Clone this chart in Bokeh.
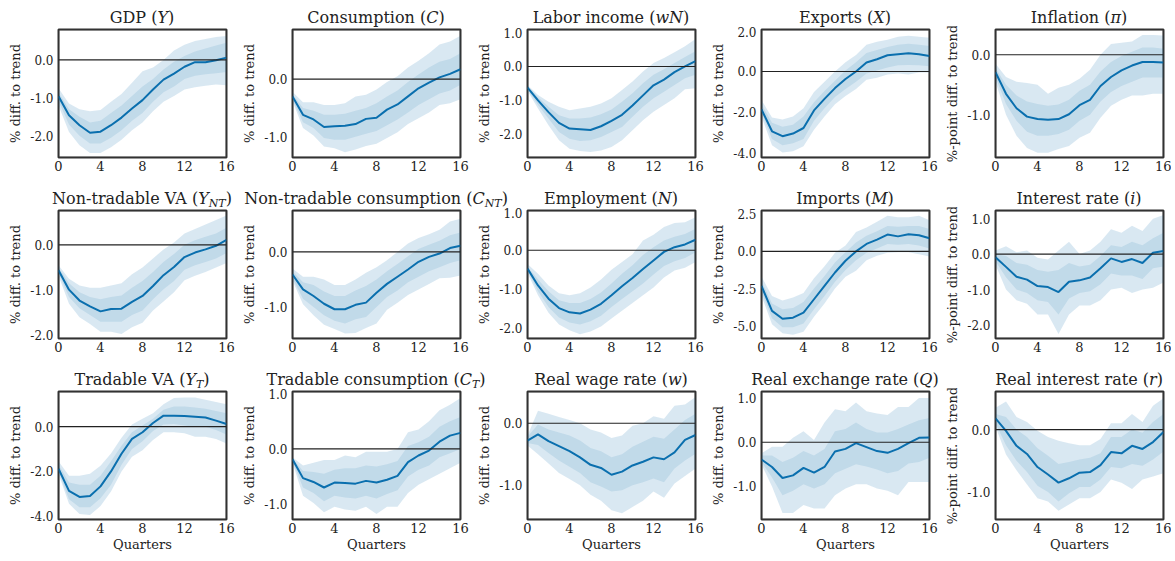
from bokeh.plotting import figure
from bokeh.models import Range1d, FixedTicker, PrintfTickFormatter, Span, Div, BoxAnnotation
from bokeh.layouts import row, column
from bokeh.embed import file_html
from bokeh.resources import INLINE

quarters = list(range(17))
x_ticks = [0, 4, 8, 12, 16]

# ---------------- data (median and 68% / 90% bands) ----------------
gdp_med = [-0.96,-1.46,-1.72,-1.92,-1.89,-1.72,-1.52,-1.28,-1.06,-0.78,-0.52,-0.36,-0.18,-0.06,-0.06,-0.01,0.06]
gdp_hi90 = [-0.75,-1.15,-1.30,-1.35,-1.32,-1.10,-0.90,-0.60,-0.30,-0.20,0.00,0.25,0.40,0.50,0.55,0.60,0.63]
gdp_hi68 = [-0.85,-1.30,-1.50,-1.65,-1.60,-1.40,-1.20,-0.95,-0.70,-0.50,-0.25,-0.05,0.10,0.22,0.30,0.38,0.45]
gdp_lo68 = [-1.08,-1.70,-2.00,-2.20,-2.20,-2.05,-1.85,-1.60,-1.40,-1.10,-0.85,-0.70,-0.50,-0.42,-0.38,-0.35,-0.32]
gdp_lo90 = [-1.20,-1.90,-2.25,-2.45,-2.45,-2.30,-2.10,-1.85,-1.65,-1.35,-1.10,-0.95,-0.78,-0.72,-0.68,-0.65,-0.67]

c_med = [-0.30,-0.62,-0.70,-0.83,-0.82,-0.81,-0.78,-0.69,-0.67,-0.53,-0.44,-0.30,-0.16,-0.06,0.03,0.09,0.17]
c_hi90 = [-0.22,-0.40,-0.40,-0.45,-0.45,-0.42,-0.30,-0.27,-0.18,-0.05,0.05,0.20,0.32,0.45,0.60,0.65,0.75]
c_hi68 = [-0.26,-0.50,-0.55,-0.62,-0.62,-0.60,-0.55,-0.50,-0.42,-0.30,-0.20,-0.05,0.08,0.20,0.30,0.35,0.45]
c_lo68 = [-0.35,-0.75,-0.85,-1.02,-1.05,-1.05,-1.00,-0.95,-0.90,-0.80,-0.70,-0.58,-0.45,-0.35,-0.25,-0.20,-0.10]
c_lo90 = [-0.38,-0.85,-0.98,-1.17,-1.20,-1.27,-1.22,-1.16,-1.12,-1.02,-0.92,-0.78,-0.68,-0.58,-0.45,-0.42,-0.35]

wn_med = [-0.63,-1.01,-1.36,-1.68,-1.85,-1.87,-1.89,-1.78,-1.62,-1.44,-1.16,-0.86,-0.56,-0.39,-0.17,0.00,0.16]
wn_hi90 = [-0.55,-0.85,-1.05,-1.20,-1.30,-1.25,-1.20,-1.10,-0.95,-0.70,-0.45,-0.15,0.10,0.25,0.42,0.60,0.82]
wn_hi68 = [-0.58,-0.92,-1.20,-1.45,-1.55,-1.55,-1.52,-1.42,-1.28,-1.05,-0.80,-0.50,-0.25,-0.08,0.10,0.28,0.45]
wn_lo68 = [-0.68,-1.15,-1.55,-1.95,-2.15,-2.22,-2.20,-2.10,-1.95,-1.80,-1.50,-1.20,-0.95,-0.75,-0.55,-0.35,-0.25]
wn_lo90 = [-0.72,-1.25,-1.75,-2.20,-2.45,-2.52,-2.55,-2.50,-2.40,-2.20,-1.90,-1.60,-1.35,-1.15,-0.95,-0.68,-0.65]

x_med = [-1.85,-2.92,-3.16,-3.03,-2.76,-1.90,-1.34,-0.81,-0.37,0.00,0.44,0.60,0.79,0.84,0.89,0.84,0.76]
x_hi90 = [-1.40,-2.25,-2.35,-2.20,-1.80,-1.00,-0.50,0.00,0.45,0.80,1.30,1.45,1.55,1.70,1.75,1.70,1.65]
x_hi68 = [-1.60,-2.50,-2.70,-2.60,-2.20,-1.50,-0.95,-0.45,0.05,0.45,0.90,1.05,1.20,1.30,1.35,1.30,1.25]
x_lo68 = [-2.00,-3.30,-3.60,-3.50,-3.30,-2.40,-1.80,-1.25,-0.85,-0.50,-0.10,0.05,0.20,0.30,0.32,0.30,0.25]
x_lo90 = [-2.20,-3.60,-3.95,-3.90,-3.65,-2.85,-2.20,-1.60,-1.20,-0.85,-0.40,-0.30,-0.15,-0.10,-0.15,-0.05,-0.05]

pi_med = [-0.29,-0.65,-0.89,-1.03,-1.07,-1.08,-1.07,-0.99,-0.84,-0.75,-0.52,-0.37,-0.26,-0.18,-0.12,-0.12,-0.13]
pi_hi90 = [-0.15,-0.37,-0.45,-0.47,-0.50,-0.65,-0.55,-0.50,-0.40,-0.25,0.00,0.18,0.20,0.22,0.33,0.33,0.32]
pi_hi68 = [-0.22,-0.50,-0.68,-0.78,-0.82,-0.85,-0.83,-0.75,-0.60,-0.50,-0.28,-0.12,-0.02,0.05,0.12,0.12,0.10]
pi_lo68 = [-0.37,-0.82,-1.10,-1.28,-1.35,-1.35,-1.32,-1.25,-1.10,-1.00,-0.78,-0.62,-0.52,-0.45,-0.38,-0.38,-0.38]
pi_lo90 = [-0.45,-1.00,-1.35,-1.55,-1.63,-1.63,-1.57,-1.52,-1.38,-1.30,-1.05,-0.85,-0.75,-0.68,-0.68,-0.65,-0.65]

ynt_med = [-0.56,-0.99,-1.23,-1.36,-1.47,-1.42,-1.41,-1.26,-1.13,-0.91,-0.67,-0.49,-0.27,-0.17,-0.10,-0.02,0.11]
ynt_hi90 = [-0.45,-0.75,-0.90,-0.95,-0.95,-0.90,-0.85,-0.65,-0.50,-0.30,-0.10,0.05,0.25,0.35,0.45,0.55,0.65]
ynt_hi68 = [-0.50,-0.85,-1.05,-1.15,-1.20,-1.15,-1.12,-0.95,-0.80,-0.60,-0.38,-0.20,0.00,0.10,0.18,0.25,0.38]
ynt_lo68 = [-0.62,-1.15,-1.40,-1.55,-1.70,-1.70,-1.70,-1.55,-1.45,-1.20,-0.98,-0.80,-0.55,-0.45,-0.38,-0.30,-0.18]
ynt_lo90 = [-0.68,-1.30,-1.60,-1.75,-1.92,-1.92,-1.97,-1.82,-1.72,-1.45,-1.25,-1.05,-0.78,-0.68,-0.60,-0.50,-0.40]

cnt_med = [-0.41,-0.68,-0.80,-0.94,-1.04,-1.04,-0.96,-0.92,-0.74,-0.58,-0.45,-0.32,-0.18,-0.09,-0.03,0.07,0.11]
cnt_hi90 = [-0.30,-0.45,-0.45,-0.50,-0.60,-0.60,-0.50,-0.38,-0.28,-0.15,0.00,0.15,0.25,0.32,0.40,0.55,0.60]
cnt_hi68 = [-0.35,-0.55,-0.60,-0.72,-0.80,-0.80,-0.70,-0.62,-0.50,-0.35,-0.22,-0.08,0.05,0.13,0.20,0.30,0.35]
cnt_lo68 = [-0.48,-0.85,-1.00,-1.15,-1.25,-1.30,-1.22,-1.18,-1.00,-0.82,-0.70,-0.55,-0.45,-0.35,-0.28,-0.20,-0.15]
cnt_lo90 = [-0.52,-0.95,-1.15,-1.32,-1.40,-1.48,-1.47,-1.38,-1.30,-1.05,-0.92,-0.78,-0.68,-0.58,-0.48,-0.47,-0.43]

n_med = [-0.47,-0.90,-1.24,-1.48,-1.59,-1.62,-1.52,-1.37,-1.15,-0.92,-0.71,-0.48,-0.26,-0.04,0.08,0.15,0.27]
n_hi90 = [-0.35,-0.60,-0.90,-1.10,-1.15,-1.10,-0.95,-0.75,-0.50,-0.30,-0.10,0.25,0.40,0.60,0.70,0.72,0.85]
n_hi68 = [-0.42,-0.75,-1.05,-1.28,-1.35,-1.35,-1.25,-1.08,-0.85,-0.60,-0.38,-0.12,0.08,0.25,0.35,0.42,0.55]
n_lo68 = [-0.52,-1.05,-1.45,-1.72,-1.85,-1.90,-1.82,-1.68,-1.45,-1.25,-1.05,-0.85,-0.62,-0.40,-0.28,-0.20,-0.05]
n_lo90 = [-0.58,-1.15,-1.60,-1.90,-2.05,-2.15,-2.08,-1.95,-1.75,-1.55,-1.35,-1.15,-0.95,-0.70,-0.52,-0.45,-0.30]

m_med = [-2.32,-4.00,-4.53,-4.46,-4.12,-3.22,-2.32,-1.42,-0.63,0.00,0.50,0.79,1.13,1.01,1.15,1.08,0.88]
m_hi90 = [-1.70,-3.00,-3.30,-3.10,-2.80,-1.80,-1.00,-0.10,0.40,1.30,1.60,2.00,2.40,2.30,2.30,2.40,2.10]
m_hi68 = [-2.00,-3.50,-3.90,-3.80,-3.40,-2.50,-1.65,-0.75,-0.05,0.60,1.05,1.35,1.70,1.65,1.70,1.70,1.50]
m_lo68 = [-2.70,-4.50,-5.10,-5.10,-4.85,-3.90,-3.00,-2.05,-1.25,-0.60,-0.10,0.20,0.50,0.45,0.50,0.40,0.20]
m_lo90 = [-3.00,-4.90,-5.50,-5.60,-5.40,-4.40,-3.50,-2.50,-1.70,-1.30,-0.60,-0.30,-0.10,-0.05,-0.05,-0.20,-0.35]

i_med = [-0.09,-0.36,-0.64,-0.72,-0.90,-0.93,-1.07,-0.78,-0.74,-0.66,-0.40,-0.12,-0.22,-0.14,-0.25,0.04,0.09]
i_hi90 = [0.10,0.22,0.05,0.10,-0.10,-0.15,0.10,0.35,0.00,0.10,0.35,0.70,0.60,0.80,0.65,1.00,1.10]
i_hi68 = [0.00,-0.05,-0.25,-0.30,-0.45,-0.50,-0.45,-0.25,-0.35,-0.30,-0.05,0.25,0.20,0.35,0.25,0.45,0.60]
i_lo68 = [-0.20,-0.65,-1.00,-1.10,-1.30,-1.35,-1.70,-1.25,-1.10,-1.05,-0.85,-0.55,-0.60,-0.60,-0.70,-0.40,-0.35]
i_lo90 = [-0.30,-1.00,-1.30,-1.40,-1.70,-1.70,-2.25,-1.70,-1.45,-1.45,-1.30,-1.00,-0.95,-1.10,-1.00,-0.95,-0.80]

yt_med = [-1.88,-2.87,-3.14,-3.10,-2.67,-2.00,-1.21,-0.55,-0.25,0.16,0.49,0.49,0.47,0.44,0.41,0.27,0.12]
yt_hi90 = [-1.55,-2.20,-2.20,-2.10,-1.75,-1.20,-0.50,0.10,0.35,0.60,1.00,1.28,1.30,1.30,1.20,1.10,1.00]
yt_hi68 = [-1.70,-2.50,-2.60,-2.60,-2.20,-1.55,-0.85,-0.25,0.05,0.35,0.75,0.90,0.90,0.85,0.80,0.70,0.60]
yt_lo68 = [-2.00,-3.25,-3.60,-3.60,-3.20,-2.60,-1.70,-1.00,-0.65,-0.20,0.10,0.12,0.05,0.00,0.00,-0.15,-0.35]
yt_lo90 = [-2.10,-3.45,-3.90,-3.95,-3.55,-2.90,-2.00,-1.35,-1.05,-0.60,-0.25,-0.25,-0.30,-0.45,-0.45,-0.55,-0.75]

ct_med = [-0.19,-0.53,-0.60,-0.70,-0.61,-0.62,-0.63,-0.58,-0.61,-0.56,-0.49,-0.24,-0.12,-0.03,0.13,0.24,0.29]
ct_hi90 = [-0.15,-0.30,-0.25,-0.20,-0.20,-0.12,-0.15,-0.05,-0.05,-0.05,0.00,0.30,0.35,0.50,0.70,0.80,0.92]
ct_hi68 = [-0.17,-0.40,-0.42,-0.45,-0.38,-0.35,-0.35,-0.30,-0.32,-0.28,-0.22,0.05,0.12,0.22,0.40,0.50,0.58]
ct_lo68 = [-0.22,-0.70,-0.80,-0.95,-0.85,-0.88,-0.90,-0.85,-0.90,-0.82,-0.75,-0.50,-0.38,-0.30,-0.15,-0.08,0.00]
ct_lo90 = [-0.25,-0.85,-0.98,-1.15,-1.05,-1.10,-1.12,-1.05,-1.18,-1.05,-1.05,-0.80,-0.65,-0.55,-0.45,-0.35,-0.25]

w_med = [-0.28,-0.18,-0.29,-0.37,-0.45,-0.55,-0.67,-0.72,-0.83,-0.78,-0.68,-0.62,-0.55,-0.58,-0.47,-0.27,-0.19]
w_hi90 = [-0.20,0.20,0.15,0.10,0.05,0.00,-0.10,-0.15,-0.24,-0.20,-0.04,0.00,0.11,0.07,0.28,0.30,0.42]
w_hi68 = [-0.22,-0.02,-0.10,-0.15,-0.20,-0.28,-0.40,-0.45,-0.55,-0.50,-0.38,-0.30,-0.22,-0.25,-0.10,0.05,0.15]
w_lo68 = [-0.32,-0.35,-0.48,-0.60,-0.70,-0.80,-0.95,-1.02,-1.10,-1.08,-1.00,-0.95,-0.89,-0.95,-0.73,-0.60,-0.49]
w_lo90 = [-0.36,-0.50,-0.65,-0.80,-0.90,-1.00,-1.15,-1.25,-1.40,-1.45,-1.35,-1.25,-1.10,-1.20,-0.97,-0.85,-0.73]

q_med = [-0.39,-0.56,-0.81,-0.75,-0.58,-0.69,-0.56,-0.21,-0.15,-0.02,-0.11,-0.20,-0.24,-0.15,-0.02,0.10,0.11]
q_hi90 = [-0.25,-0.10,-0.10,0.10,0.25,0.05,0.45,0.75,0.70,0.90,0.70,0.65,0.62,0.80,0.80,1.00,1.00]
q_hi68 = [-0.30,-0.30,-0.45,-0.35,-0.20,-0.30,-0.15,0.25,0.30,0.45,0.30,0.22,0.22,0.30,0.40,0.50,0.55]
q_lo68 = [-0.45,-0.80,-1.20,-1.10,-0.95,-1.05,-0.95,-0.70,-0.60,-0.50,-0.55,-0.62,-0.70,-0.65,-0.48,-0.45,-0.35]
q_lo90 = [-0.50,-1.00,-1.60,-1.60,-1.42,-1.50,-1.50,-1.20,-1.05,-0.95,-0.95,-1.05,-1.10,-1.20,-0.90,-0.90,-0.90]

r_med = [0.18,-0.02,-0.26,-0.39,-0.60,-0.72,-0.85,-0.78,-0.69,-0.68,-0.57,-0.36,-0.38,-0.26,-0.31,-0.20,-0.04]
r_hi90 = [0.35,0.45,0.20,0.12,-0.02,-0.12,-0.18,-0.22,-0.25,-0.25,-0.15,0.10,0.10,0.25,0.12,0.38,0.50]
r_hi68 = [0.25,0.20,0.00,-0.12,-0.30,-0.42,-0.55,-0.52,-0.48,-0.45,-0.38,-0.12,-0.12,0.00,-0.05,0.12,0.25]
r_lo68 = [0.10,-0.25,-0.50,-0.68,-0.90,-1.00,-1.15,-1.02,-0.92,-0.92,-0.80,-0.60,-0.62,-0.55,-0.58,-0.48,-0.35]
r_lo90 = [0.05,-0.40,-0.65,-0.88,-1.10,-1.15,-1.30,-1.20,-1.10,-1.10,-1.00,-0.80,-0.85,-0.95,-0.80,-0.75,-0.70]

titles = [
    'GDP (<i>Y</i>)', 'Consumption (<i>C</i>)', 'Labor income (<i>wN</i>)',
    'Exports (<i>X</i>)', 'Inflation (<i>&pi;</i>)',
    'Non-tradable VA (<i>Y</i><sub>NT</sub>)',
    'Non-tradable consumption (<i>C</i><sub>NT</sub>)',
    'Employment (<i>N</i>)', 'Imports (<i>M</i>)', 'Interest rate (<i>i</i>)',
    'Tradable VA (<i>Y</i><sub>T</sub>)',
    'Tradable consumption (<i>C</i><sub>T</sub>)',
    'Real wage rate (<i>w</i>)', 'Real exchange rate (<i>Q</i>)',
    'Real interest rate (<i>r</i>)',
]
pct = "% diff. to trend"
ppt = "%-point diff. to trend"
y_labels = [pct, pct, pct, pct, ppt, pct, pct, pct, pct, ppt, pct, pct, pct, pct, ppt]
y_ticks = [
    [-2.0, -1.0, 0.0], [-1.0, 0.0], [-2.0, -1.0, 0.0, 1.0], [-4.0, -2.0, 0.0, 2.0], [-1.0, 0.0],
    [-2.0, -1.0, 0.0], [-1.0, 0.0], [-2.0, -1.0, 0.0, 1.0], [-5.0, -2.5, 0.0, 2.5], [-2.0, -1.0, 0.0, 1.0],
    [-4.0, -2.0, 0.0], [-1.0, 0.0, 1.0], [-1.0, 0.0], [-1.0, 0.0, 1.0], [-1.0, 0.0],
]
y_limits = [
    (-2.57, 0.80), (-1.36, 0.86), (-2.71, 1.10), (-4.20, 2.05), (-1.71, 0.42),
    (-2.07, 0.76), (-1.57, 0.75), (-2.26, 1.02), (-5.86, 2.75), (-2.38, 1.23),
    (-4.15, 1.57), (-1.28, 1.04), (-1.55, 0.51), (-1.75, 1.15), (-1.44, 0.61),
]
series = [
    (gdp_med, gdp_lo90, gdp_lo68, gdp_hi68, gdp_hi90),
    (c_med, c_lo90, c_lo68, c_hi68, c_hi90),
    (wn_med, wn_lo90, wn_lo68, wn_hi68, wn_hi90),
    (x_med, x_lo90, x_lo68, x_hi68, x_hi90),
    (pi_med, pi_lo90, pi_lo68, pi_hi68, pi_hi90),
    (ynt_med, ynt_lo90, ynt_lo68, ynt_hi68, ynt_hi90),
    (cnt_med, cnt_lo90, cnt_lo68, cnt_hi68, cnt_hi90),
    (n_med, n_lo90, n_lo68, n_hi68, n_hi90),
    (m_med, m_lo90, m_lo68, m_hi68, m_hi90),
    (i_med, i_lo90, i_lo68, i_hi68, i_hi90),
    (yt_med, yt_lo90, yt_lo68, yt_hi68, yt_hi90),
    (ct_med, ct_lo90, ct_lo68, ct_hi68, ct_hi90),
    (w_med, w_lo90, w_lo68, w_hi68, w_hi90),
    (q_med, q_lo90, q_lo68, q_hi68, q_hi90),
    (r_med, r_lo90, r_lo68, r_hi68, r_hi90),
]

# ---------------- styling / layout ----------------
BLUE = "#0a6fae"
BAND = "#1f78b4"
FONT = "DejaVu Serif"
TXT = "#222222"
FRAME_W, FRAME_H, TOP = 168, 128, 3
DIV_H = 26
col_lefts = [58, 53, 53, 53, 53]
col_widths = [239, 235, 234, 234, 229]
bottoms = [24, 24, 40]


def title_div(html, w, left):
    inner = ('<div style="display:flex;justify-content:center;width:%dpx;margin-left:%dpx;padding-top:8px">'
             '<span style="white-space:nowrap;font-family:\'%s\';font-size:16px;line-height:19px;color:%s">'
             '%s</span></div>' % (FRAME_W, left, FONT, TXT, html))
    inner = inner.replace('<sub>', '<sub style="font-size:11px;font-style:italic;vertical-align:-3px;line-height:0">')
    return Div(text=inner, width=w, height=DIV_H, margin=0, styles={"overflow": "visible"})


rows = []
for r in range(3):
    cells = []
    for c in range(5):
        k = r * 5 + c
        med, lo90, lo68, hi68, hi90 = series[k]
        w = col_widths[c]
        left = col_lefts[c]
        h = TOP + FRAME_H + bottoms[r]
        p = figure(width=w, height=h, x_range=Range1d(0, 16), y_range=Range1d(*y_limits[k]),
                   output_backend="svg", toolbar_location=None,
                   min_border_left=left, min_border_right=w - left - FRAME_W,
                   min_border_top=TOP, min_border_bottom=bottoms[r])
        p.varea(x=quarters, y1=lo90, y2=hi90, fill_color=BAND, fill_alpha=0.17)
        p.varea(x=quarters, y1=lo68, y2=hi68, fill_color=BAND, fill_alpha=0.13)
        p.add_layout(Span(location=0, dimension="width", line_color="#222222", line_width=1.1))
        p.line(x=quarters, y=med, line_color=BLUE, line_width=2)
        p.add_layout(BoxAnnotation(fill_alpha=0, line_color="#333333", line_width=2))

        p.xaxis.ticker = FixedTicker(ticks=x_ticks)
        p.yaxis.ticker = FixedTicker(ticks=y_ticks[k])
        p.yaxis.formatter = PrintfTickFormatter(format="%.1f")
        p.yaxis.axis_label = y_labels[k]
        if r == 2:
            p.xaxis.axis_label = "Quarters"
        for ax in (p.xaxis[0], p.yaxis[0]):
            ax.axis_line_color = None
            ax.major_tick_line_color = None
            ax.minor_tick_line_color = None
            ax.major_tick_out = 0
            ax.major_tick_in = 0
            ax.minor_tick_out = 0
            ax.major_label_text_font = FONT
            ax.major_label_text_color = TXT
            ax.axis_label_text_font = FONT
            ax.axis_label_text_font_style = "normal"
            ax.axis_label_text_color = TXT
            ax.axis_label_text_font_size = "13px"
        p.yaxis.major_label_standoff = 5
        p.yaxis.axis_label_standoff = 4
        p.xaxis.major_label_standoff = 3
        p.xaxis.axis_label_standoff = 1
        p.xaxis.major_label_text_font_size = "13px"
        p.yaxis.major_label_text_font_size = "12px"
        p.grid.visible = False
        p.outline_line_color = "#333333"
        p.outline_line_width = 2
        p.outline_line_alpha = 1
        p.background_fill_color = "white"
        p.border_fill_color = None
        cells.append(column(title_div(titles[k], w, left), p, spacing=0))
    rows.append(row(*cells, spacing=0))

layout = column(*rows, spacing=0)
open("out.html", "w").write(file_html(layout, INLINE))
